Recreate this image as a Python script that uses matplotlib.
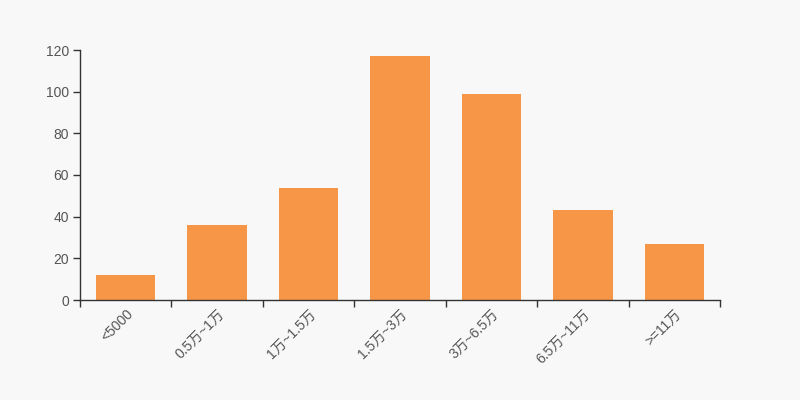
import matplotlib
matplotlib.use("Agg")
import matplotlib.pyplot as plt
import matplotlib.transforms as mtransforms
import numpy as np

plt.rcParams['font.family'] = ['Liberation Sans', 'Noto Sans CJK SC', 'DejaVu Sans']

categories = ["<5000", "0.5万~1万", "1万~1.5万", "1.5万~3万", "3万~6.5万", "6.5万~11万", ">=11万"]
values = [12, 36, 54, 117, 99, 43, 27]
yticks = [0, 20, 40, 60, 80, 100, 120]

bg = "#f8f8f8"
bar_color = "#f79646"
axis_color = "#333333"
text_color = "#555555"

fig = plt.figure(figsize=(8, 4), dpi=100, facecolor=bg)
ax = fig.add_axes([0.1, 0.25, 0.8, 0.625], facecolor=bg)

x = np.arange(len(categories))
ax.bar(x, values, width=0.65, color=bar_color, zorder=2)

ax.set_xlim(-0.5, len(categories) - 0.5)
ax.set_ylim(0, 120)
ax.set_yticks(yticks)
ax.set_yticklabels([str(v) for v in yticks], fontsize=10, color=text_color)

# boundary ticks (major) and center labels (minor)
ax.set_xticks(np.arange(len(categories) + 1) - 0.5)
ax.set_xticklabels([])
ax.set_xticks(x, minor=True)
ax.set_xticklabels(categories, minor=True, rotation=45, ha='right',
                   rotation_mode='anchor', fontsize=10, color=text_color)
offset = mtransforms.ScaledTranslation(-4 / 72, 0, fig.dpi_scale_trans)
for lbl in ax.get_xticklabels(minor=True):
    lbl.set_transform(lbl.get_transform() + offset)
ax.tick_params(axis='x', which='major', length=5, width=1, color=axis_color, direction='out')
ax.tick_params(axis='x', which='minor', length=0, pad=5)
ax.tick_params(axis='y', length=5, width=1, color=axis_color, pad=3)

for s in ['top', 'right']:
    ax.spines[s].set_visible(False)
for s in ['left', 'bottom']:
    ax.spines[s].set_color(axis_color)
    ax.spines[s].set_linewidth(1)

fig.savefig("out.png", dpi=100, facecolor=bg)
